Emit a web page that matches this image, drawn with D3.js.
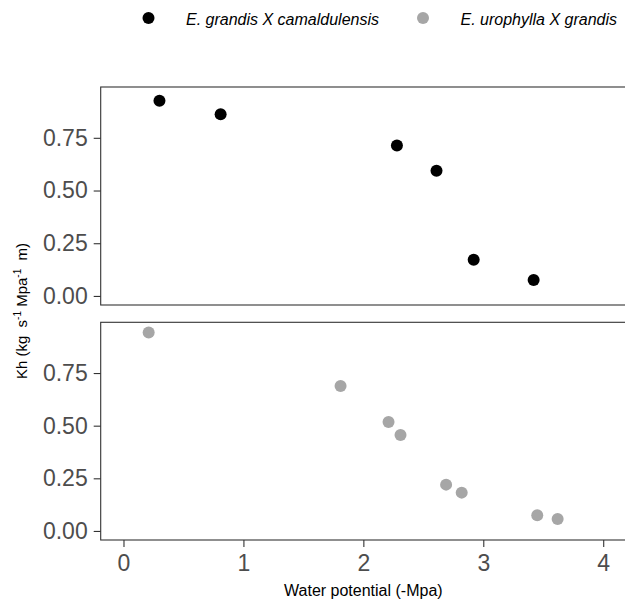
<!DOCTYPE html>
<html><head><meta charset="utf-8">
<script src="https://cdn.jsdelivr.net/npm/d3@7"></script>
<style>body{margin:0;background:#fff}svg{display:block;font-family:"Liberation Sans",Arial,sans-serif}</style>
</head><body><svg id="c" width="625" height="602"></svg>
<script>
const seriesNames = ["E. grandis X camaldulensis", "E. urophylla X grandis"];
const seriesColors = ["#000000", "#a6a6a6"];
const gcX = [0.30, 0.81, 2.28, 2.61, 2.92, 3.42];
const gcY = [0.926, 0.862, 0.714, 0.594, 0.172, 0.076];
const ugX = [0.21, 1.81, 2.21, 2.31, 2.69, 2.82, 3.45, 3.62];
const ugY = [0.942, 0.688, 0.517, 0.456, 0.220, 0.182, 0.075, 0.057];
const xTicks = [0, 1, 2, 3, 4];
const yTicks = [0, 0.25, 0.5, 0.75];

const svg = d3.select("#c");
const left = 100.7, right = 626;
const x = d3.scaleLinear().domain([-0.19, 4.19]).range([left, right]);
const panels = [
  {top: 87, bottom: 305, xs: gcX, ys: gcY, color: seriesColors[0]},
  {top: 322.3, bottom: 540, xs: ugX, ys: ugY, color: seriesColors[1]}
];
panels.forEach((p, i) => {
  const y = d3.scaleLinear().domain([-0.043, 0.991]).range([p.bottom, p.top]);
  const g = svg.append("g");
  g.append("rect").attr("x", left).attr("y", p.top).attr("width", right - left).attr("height", p.bottom - p.top)
    .attr("fill", "none").attr("stroke", "#333").attr("stroke-width", 1.1);
  const ya = g.append("g").attr("transform", `translate(${left},0)`)
    .call(d3.axisLeft(y).tickValues(yTicks).tickFormat(d3.format(".2f")).tickSize(7).tickPadding(6));
  ya.select(".domain").remove();
  ya.selectAll(".tick line").attr("stroke", "#333").attr("stroke-width", 1.1);
  ya.selectAll(".tick text").attr("fill", "#4d4d4d").style("font-size", "23px");
  g.selectAll("circle.pt").data(p.xs.map((v, k) => [v, p.ys[k]])).join("circle")
    .attr("class", "pt").attr("cx", d => x(d[0])).attr("cy", d => y(d[1])).attr("r", 6).attr("fill", p.color);
  if (i === 1) {
    const xa = g.append("g").attr("transform", `translate(0,${p.bottom})`)
      .call(d3.axisBottom(x).tickValues(xTicks).tickFormat(d3.format("d")).tickSize(7).tickPadding(8));
    xa.select(".domain").remove();
    xa.selectAll(".tick line").attr("stroke", "#333").attr("stroke-width", 1.1);
    xa.selectAll(".tick text").attr("fill", "#4d4d4d").style("font-size", "23px");
  }
});
svg.append("text").attr("x", (left + right) / 2).attr("y", 596).attr("text-anchor", "middle")
  .style("font-size", "16px").attr("fill", "#000").text("Water potential (-Mpa)");
const yt = svg.append("text").attr("transform", "translate(27,311) rotate(-90)").attr("text-anchor", "middle")
  .style("font-size", "15px").attr("fill", "#000").attr("xml:space", "preserve").style("white-space", "pre");
yt.append("tspan").text("Kh (kg  s");
yt.append("tspan").attr("dy", -6).style("font-size", "10px").text("-1");
yt.append("tspan").attr("dy", 6).text(" Mpa");
yt.append("tspan").attr("dy", -6).style("font-size", "10px").text("-1");
yt.append("tspan").attr("dy", 6).text("  m)");
// legend
const legX = [148.5, 423];
seriesNames.forEach((n, i) => {
  svg.append("circle").attr("cx", legX[i]).attr("cy", 18).attr("r", 6).attr("fill", seriesColors[i]);
  svg.append("text").attr("x", legX[i] + 37.5).attr("y", 24.5).style("font-size", "16px").style("font-style", "italic")
    .attr("fill", "#000").text(n);
});
</script></body></html>
